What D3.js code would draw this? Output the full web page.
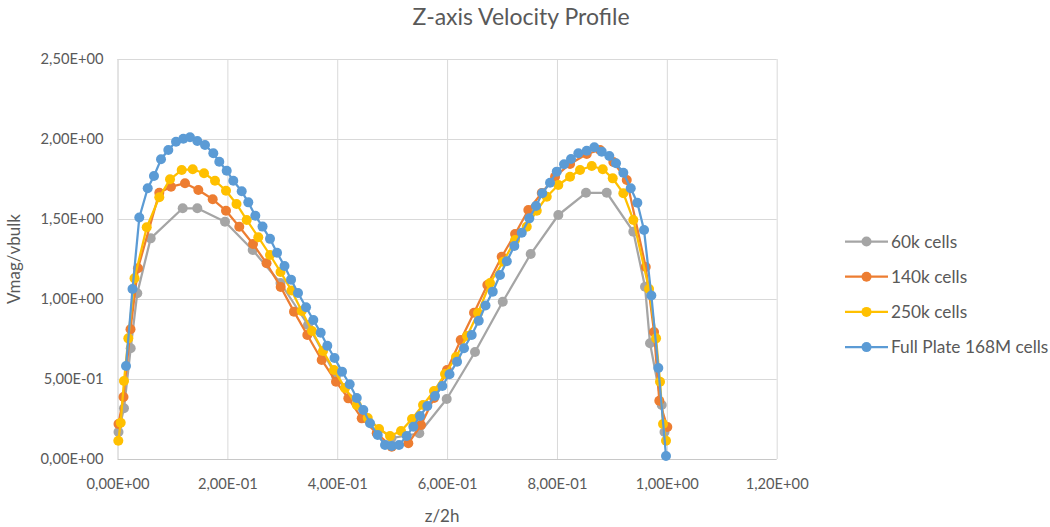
<!DOCTYPE html>
<html><head><meta charset="utf-8">
<script src="https://cdn.jsdelivr.net/npm/d3@7"></script>
<style>body{margin:0;background:#fff} text{font-family:Lato,"Open Sans",sans-serif;fill:#595959}</style>
</head><body>
<svg id="c" width="1050" height="527"></svg>
<script>
// ---- data ----
const seriesNames = ["60k cells", "140k cells", "250k cells", "Full Plate 168M cells"];
const seriesColors = ["#A5A5A5", "#ED7D31", "#FFC000", "#5B9BD5"];

const cells60k = [
  [0.0018,0.169],[0.0118,0.317],[0.024,0.692],[0.036,1.036],[0.0604,1.379],[0.1187,1.567],
  [0.1453,1.567],[0.1957,1.483],[0.2461,1.306],[0.2967,1.10],[0.3468,0.8375],[0.3978,0.519],
  [0.4478,0.269],[0.4988,0.131],[0.5494,0.161],[0.5993,0.375],[0.6508,0.669],[0.7013,0.983],
  [0.7522,1.281],[0.8025,1.525],[0.8529,1.664],[0.8906,1.664],[0.939,1.421],[0.9603,1.077],
  [0.9694,0.723],[0.9907,0.3375],[0.9958,0.169]
];
const cells140k = [
  [0.0018,0.219],[0.0109,0.3875],[0.0237,0.811],[0.0373,1.192],[0.0761,1.664],[0.0974,1.702],
  [0.1229,1.723],[0.1471,1.681],[0.1733,1.623],[0.1975,1.552],[0.2217,1.452],[0.2467,1.344],
  [0.2713,1.223],[0.2971,1.075],[0.3213,0.921],[0.3455,0.775],[0.3717,0.619],[0.3978,0.483],
  [0.4202,0.379],[0.4446,0.254],[0.4719,0.161],[0.4992,0.077],[0.5294,0.098],[0.5525,0.2125],
  [0.5762,0.381],[0.5998,0.556],[0.6248,0.744],[0.649,0.914],[0.6732,1.0875],[0.6994,1.264],
  [0.7237,1.406],[0.7479,1.556],[0.7723,1.6625],[0.7965,1.764],[0.8238,1.844],[0.8542,1.906],
  [0.8784,1.931],[0.9026,1.856],[0.927,1.744],[0.9616,1.20],[0.9767,0.794],[0.9863,0.364],
  [1.0009,0.20]
];
const cells250k = [
  [0.0015,0.114],[0.0058,0.227],[0.0118,0.4875],[0.0197,0.754],[0.031,1.129],[0.0532,1.448],
  [0.0761,1.636],[0.0956,1.748],[0.1169,1.806],[0.1369,1.811],[0.1575,1.786],[0.1775,1.739],
  [0.1975,1.677],[0.2166,1.594],[0.2352,1.494],[0.2563,1.386],[0.2776,1.275],[0.2967,1.169],
  [0.3168,1.053],[0.3353,0.925],[0.3541,0.80],[0.3741,0.675],[0.3941,0.556],[0.4142,0.444],
  [0.4355,0.3375],[0.4555,0.256],[0.4761,0.1875],[0.4961,0.144],[0.5161,0.175],[0.5361,0.25],
  [0.5562,0.3375],[0.5762,0.425],[0.5962,0.531],[0.6162,0.6375],[0.6363,0.769],[0.6563,0.9125],
  [0.6781,1.10],[0.7023,1.233],[0.7237,1.369],[0.745,1.452],[0.7632,1.552],[0.7814,1.639],
  [0.8025,1.7125],[0.8238,1.764],[0.842,1.806],[0.8633,1.831],[0.8833,1.811],[0.9015,1.754],
  [0.9208,1.661],[0.939,1.494],[0.9676,1.0625],[0.9804,0.754],[0.9876,0.483],[0.9931,0.219],
  [0.9985,0.114]
];
const cells168M = [
  [0.0155,0.581],[0.0273,1.0625],[0.0397,1.509],[0.055,1.692],[0.0664,1.769],
  [0.0792,1.873],[0.0925,1.931],[0.1065,1.983],[0.1198,2.002],[0.132,2.011],[0.1453,1.988],
  [0.1593,1.963],[0.1744,1.911],[0.1853,1.858],[0.1988,1.802],[0.2108,1.739],[0.2261,1.673],
  [0.2381,1.604],[0.2509,1.52],[0.264,1.4525],[0.2776,1.376],[0.2904,1.289],[0.304,1.206],
  [0.3159,1.121],[0.3286,1.0375],[0.3432,0.948],[0.3565,0.869],[0.3699,0.789],[0.3819,0.708],
  [0.395,0.631],[0.4087,0.546],[0.4227,0.467],[0.4355,0.381],[0.4475,0.306],[0.4597,0.223],
  [0.4737,0.15],[0.487,0.0875],[0.4992,0.081],[0.5125,0.0875],[0.5265,0.144],[0.5385,0.202],
  [0.5507,0.269],[0.564,0.331],[0.578,0.394],[0.5913,0.456],[0.6044,0.53],[0.6181,0.608],
  [0.6308,0.692],[0.6448,0.775],[0.6576,0.864],[0.67,0.959],[0.6831,1.046],[0.6963,1.15],
  [0.7087,1.236],[0.7224,1.331],[0.7359,1.414],[0.7497,1.504],[0.7619,1.581],[0.7733,1.661],
  [0.7874,1.727],[0.7996,1.796],[0.8129,1.842],[0.8256,1.875],[0.8389,1.911],[0.8542,1.927],
  [0.868,1.948],[0.8815,1.921],[0.8953,1.894],[0.9075,1.848],[0.9208,1.789],[0.9343,1.692],
  [0.9463,1.602],[0.9585,1.431],[0.9718,1.022],[0.9845,0.569],[0.9985,0.019]
];

const xTicks = [0, 0.2, 0.4, 0.6, 0.8, 1.0, 1.2];
const xTickLabels = ["0,00E+00","2,00E-01","4,00E-01","6,00E-01","8,00E-01","1,00E+00","1,20E+00"];
const yTicks = [0, 0.5, 1.0, 1.5, 2.0, 2.5];
const yTickLabels = ["0,00E+00","5,00E-01","1,00E+00","1,50E+00","2,00E+00","2,50E+00"];

const titleText = "Z-axis Velocity Profile";
const xTitle = "z/2h";
const yTitle = "Vmag/vbulk";

// ---- drawing ----
const svg = d3.select("#c");
const L = 117.5, R = 776.7, T = 59, B = 459;
const x = d3.scaleLinear().domain([0, 1.2]).range([L, R]);
const y = d3.scaleLinear().domain([0, 2.5]).range([B, T]);

const gx = svg.append("g").attr("transform", `translate(0,${B})`)
  .call(d3.axisBottom(x).tickValues(xTicks).tickFormat((d,i)=>xTickLabels[i]).tickSize(-(B-T)).tickPadding(20));
const gy = svg.append("g").attr("transform", `translate(${L},0)`)
  .call(d3.axisLeft(y).tickValues(yTicks).tickFormat((d,i)=>yTickLabels[i]).tickSize(-(R-L)).tickPadding(14));
[gx, gy].forEach(g => {
  g.select(".domain").remove();
  g.selectAll(".tick line").attr("stroke", "#D9D9D9").attr("stroke-width", 1);
  g.selectAll(".tick text").style("font-size", "14.7px").style("fill", "#595959").style("font-family", "Lato");
});
gx.selectAll(".tick line").filter(d => d === 0).attr("stroke", "#C8C8C8");
gy.selectAll(".tick line").filter(d => d === 0).attr("stroke", "#C8C8C8");

const all = [cells60k, cells140k, cells250k, cells168M];
const line = d3.line().x(d => x(d[0])).y(d => y(d[1]));
all.forEach((data, i) => {
  const g = svg.append("g");
  g.append("path").datum(data).attr("d", line).attr("fill", "none")
    .attr("stroke", seriesColors[i]).attr("stroke-width", 2.25).attr("stroke-linejoin", "round");
  g.selectAll("circle").data(data).join("circle")
    .attr("cx", d => x(d[0])).attr("cy", d => y(d[1])).attr("r", 5)
    .attr("fill", seriesColors[i]);
});

// titles
svg.append("text").attr("x", 521).attr("y", 25).attr("text-anchor", "middle")
  .style("font-size", "23px").text(titleText);
svg.append("text").attr("x", (L + R) / 2 - 5).attr("y", 522).attr("text-anchor", "middle")
  .style("font-size", "17px").text(xTitle);
svg.append("text").attr("transform", `translate(20,${(T + B) / 2}) rotate(-90)`).attr("text-anchor", "middle")
  .style("font-size", "17px").text(yTitle);

// legend
const leg = svg.append("g");
seriesNames.forEach((name, i) => {
  const yy = 241.5 + i * 35.2;
  leg.append("line").attr("x1", 845).attr("x2", 888).attr("y1", yy).attr("y2", yy)
    .attr("stroke", seriesColors[i]).attr("stroke-width", 2.25);
  leg.append("circle").attr("cx", 866.5).attr("cy", yy).attr("r", 5).attr("fill", seriesColors[i]);
  leg.append("text").attr("x", 891).attr("y", yy).attr("dy", "0.35em")
    .style("font-size", "17.3px").text(name);
});
</script>
</body></html>
